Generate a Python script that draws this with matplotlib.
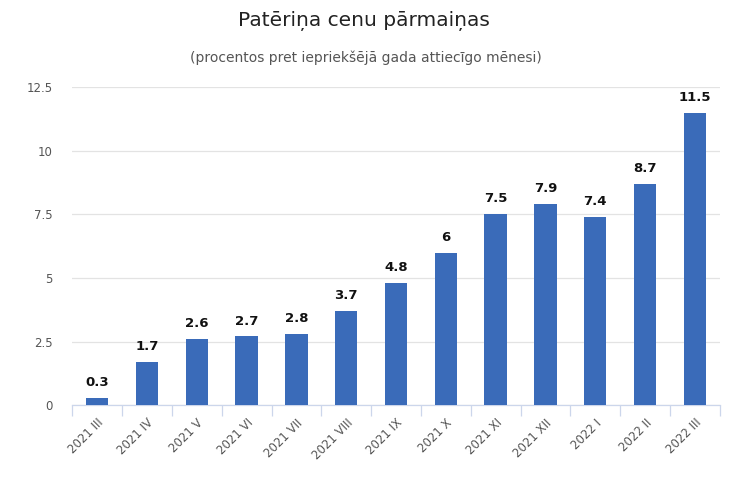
import numpy as np
import matplotlib
matplotlib.use("Agg")
from matplotlib import pyplot as plt

# data
months = ["2021 III", "2021 IV", "2021 V", "2021 VI", "2021 VII", "2021 VIII",
          "2021 IX", "2021 X", "2021 XI", "2021 XII", "2022 I", "2022 II", "2022 III"]
values = [0.3, 1.7, 2.6, 2.7, 2.8, 3.7, 4.8, 6, 7.5, 7.9, 7.4, 8.7, 11.5]
yticks = [0, 2.5, 5, 7.5, 10, 12.5]
ytick_labels = ["0", "2.5", "5", "7.5", "10", "12.5"]

plt.rcParams['font.family'] = ['DejaVu Sans']

fig = plt.figure(figsize=(7.3, 4.87), dpi=100)
ax = fig.add_axes([0.099, 0.168, 0.887, 0.653])

x = np.arange(len(months))
bars = ax.bar(x, values, width=0.45, color='#3a6bb9', zorder=3)

for xi, v in zip(x, values):
    lbl = ("%g" % v)
    ax.text(xi, v + 0.35, lbl, ha='center', va='bottom', fontsize=9.5,
            fontweight='bold', color='#111111', zorder=4)

ax.set_xlim(-0.5, len(months) - 0.5)
ax.set_ylim(0, 12.5)
ax.set_yticks(yticks)
ax.set_yticklabels(ytick_labels, fontsize=8.5, color='#555555')
ax.yaxis.grid(True, color='#e3e3e3', linewidth=0.9, zorder=0)
ax.tick_params(axis='y', length=0, pad=14)

# x ticks: labels at category centers, tick marks at boundaries
ax.set_xticks(x)
ax.set_xticklabels(months, rotation=45, ha='right', rotation_mode='anchor',
                   fontsize=8.5, color='#555555')
ax.tick_params(axis='x', which='major', length=0, pad=8)
ax.set_xticks(np.arange(len(months) + 1) - 0.5, minor=True)
ax.tick_params(axis='x', which='minor', length=8, color='#ccd6eb', width=0.9)

for s in ['top', 'right', 'left']:
    ax.spines[s].set_visible(False)
ax.spines['bottom'].set_color('#ccd6eb')
ax.spines['bottom'].set_linewidth(0.9)

fig.text(0.499, 0.957, "Patēriņa cenu pārmaiņas", ha='center', va='center',
         fontsize=14.5, color='#222222')
fig.text(0.501, 0.881, "(procentos pret iepriekšējā gada attiecīgo mēnesi)",
         ha='center', va='center', fontsize=10, color='#555555')

fig.savefig("out.png", dpi=100)
